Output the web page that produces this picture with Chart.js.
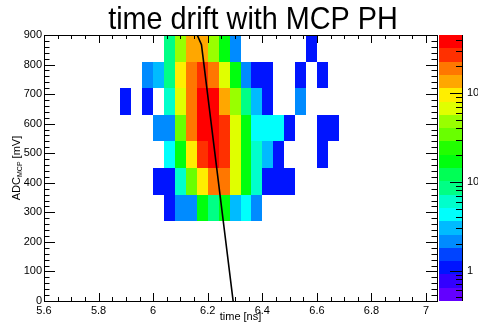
<!DOCTYPE html>
<html><head><meta charset="utf-8">
<script src="https://cdn.jsdelivr.net/npm/chart.js@4.4.1/dist/chart.umd.min.js"></script>
<style>html,body{margin:0;padding:0;background:#fff;}canvas{display:block;}</style>
</head><body>
<canvas id="c" width="478" height="323"></canvas>
<script>
// ---------- data ----------
const chartTitle = 'time drift with MCP PH';
const xTickValues = [5.6, 5.8, 6.0, 6.2, 6.4, 6.6, 6.8, 7.0];
const yTickValues = [0, 100, 200, 300, 400, 500, 600, 700, 800, 900];
const zTickValues = [1, 10, 100];
const xRange = [5.6, 7.04];
const yRange = [0, 900];
const zRange = [0.453, 453];
const timeBinWidth = 0.04;   // ns
const adcBinWidth = 90;      // mV
// lower edges of the time bins (ns)
const timeBins = [5.88, 5.92, 5.96, 6.00, 6.04, 6.08, 6.12, 6.16, 6.20, 6.24,
                  6.28, 6.32, 6.36, 6.40, 6.44, 6.48, 6.52, 6.56, 6.60, 6.64];
// lower edges of the ADC bins (mV)
const adcBins = [810, 720, 630, 540, 450, 360, 270];
// entries per cell, one row per ADC bin, one column per time bin
const counts = [
  [0,0,0,0,9,48,135,135,48,17,2,0,0,0,0,0,0,1,0,0],
  [0,0,2,3,9,95,190,270,190,68,17,2,1,1,0,0,1,0,1,0],
  [1,0,1,0,6,68,190,380,380,135,48,9,3,1,0,0,2,0,0,0],
  [0,0,0,2,2,34,190,380,380,270,68,17,4,4,4,1,0,0,1,1],
  [0,0,0,0,4,17,95,270,380,270,68,17,6,3,1,0,0,0,1,0],
  [0,0,0,1,1,6,34,95,190,190,68,17,6,1,1,1,0,0,0,0],
  [0,0,0,0,1,2,2,17,9,17,3,4,2,0,0,0,0,0,0,0]
];
// drift curve
const lineTime = [6.158, 6.177, 6.293];
const lineAdc  = [907, 867, 0];

// ---------- palette (ROOT "pretty" palette, 20 contours) ----------
const nLevels = 20, nColors = 50;
function levelColor(j) {
  const i = Math.floor((j + 0.99) * nColors / nLevels);
  const hue = 280 - (i + 1) * (280 / nColors);
  return 'hsl(' + hue.toFixed(2) + ',100%,50%)';
}
const lzMin = Math.log10(zRange[0]), lzMax = Math.log10(zRange[1]);
function colorFor(v) {
  let j = Math.floor(0.01 + (Math.log10(v) - lzMin) * nLevels / (lzMax - lzMin));
  j = Math.max(0, Math.min(nLevels - 1, j));
  return levelColor(j);
}
const FONT = '"Liberation Sans", Arial, Helvetica, sans-serif';

const rootPlugin = {
  id: 'rootPlugin',
  beforeDatasetsDraw(chart) {
    const {ctx, chartArea: a, scales: {x, y}} = chart;
    ctx.save();
    ctx.beginPath(); ctx.rect(a.left, a.top, a.right - a.left, a.bottom - a.top); ctx.clip();
    adcBins.forEach((lo, r) => {
      counts[r].forEach((v, c) => {
        if (!v) return;
        const t0 = timeBins[c];
        const x0 = Math.round(x.getPixelForValue(t0));
        const x1 = Math.round(x.getPixelForValue(t0 + timeBinWidth));
        const y0 = Math.round(y.getPixelForValue(lo + adcBinWidth));
        const y1 = Math.round(y.getPixelForValue(lo));
        ctx.fillStyle = colorFor(v);
        ctx.fillRect(x0, y0, x1 - x0, y1 - y0);
      });
    });
    ctx.restore();
  },
  afterDraw(chart) {
    const {ctx, chartArea: a, scales: {x, y, z}} = chart;
    ctx.save();
    ctx.strokeStyle = '#000';
    ctx.lineWidth = 1;
    // frame top & right
    ctx.beginPath();
    ctx.moveTo(a.left, a.top + 0.5); ctx.lineTo(a.right + 0.5, a.top + 0.5);
    ctx.moveTo(a.right + 0.5, a.top); ctx.lineTo(a.right + 0.5, a.bottom);
    ctx.stroke();
    // x ticks (bottom & top)
    ctx.beginPath();
    for (let k = 0; ; k++) {
      const t = xRange[0] + k * 0.05;
      if (t > xRange[1] + 1e-9) break;
      const major = Math.abs((t - xRange[0]) / 0.2 - Math.round((t - xRange[0]) / 0.2)) < 1e-6;
      const len = major ? 8 : 4;
      const px = Math.round(x.getPixelForValue(t)) + 0.5;
      ctx.moveTo(px, a.bottom); ctx.lineTo(px, a.bottom - len);
      ctx.moveTo(px, a.top); ctx.lineTo(px, a.top + len);
    }
    // y ticks (left & right)
    for (let v = yRange[0]; v <= yRange[1]; v += 20) {
      const major = v % 100 === 0;
      const len = major ? 11 : 5.5;
      const py = Math.round(y.getPixelForValue(v)) + 0.5;
      ctx.moveTo(a.left, py); ctx.lineTo(a.left + len, py);
      ctx.moveTo(a.right, py); ctx.lineTo(a.right - len, py);
    }
    ctx.stroke();

    // palette
    const pl = a.right + 2, pr = a.right + 25;
    const step = (lzMax - lzMin) / nLevels;
    for (let j = 0; j < nLevels; j++) {
      const v0 = Math.pow(10, lzMin + j * step), v1 = Math.pow(10, lzMin + (j + 1) * step);
      const y0 = Math.round(z.getPixelForValue(v1)), y1 = Math.round(z.getPixelForValue(v0));
      ctx.fillStyle = levelColor(j);
      ctx.fillRect(pl, y0, pr - pl, y1 - y0);
    }
    ctx.beginPath();
    ctx.moveTo(pr + 0.5, z.top); ctx.lineTo(pr + 0.5, z.bottom);
    for (let e = -1; e <= 2; e++) {
      for (let m = 1; m <= 9; m++) {
        const v = m * Math.pow(10, e);
        if (v < zRange[0] || v > zRange[1]) continue;
        const len = m === 1 ? 12 : 6;
        const py = Math.round(z.getPixelForValue(v)) + 0.5;
        ctx.moveTo(pr, py); ctx.lineTo(pr - len, py);
      }
    }
    ctx.stroke();
    ctx.fillStyle = '#000';
    ctx.font = '11px ' + FONT;
    ctx.textAlign = 'left'; ctx.textBaseline = 'middle';
    zTickValues.forEach(v => ctx.fillText(String(v), pr + 5, z.getPixelForValue(v)));

    // y axis title with subscript
    ctx.save();
    ctx.translate(20, (a.top + a.bottom) / 2);
    ctx.rotate(-Math.PI / 2);
    ctx.textBaseline = 'alphabetic'; ctx.textAlign = 'left';
    const f1 = '11px ' + FONT, f2 = '7px ' + FONT;
    ctx.font = f1; const w1 = ctx.measureText('ADC').width, w3 = ctx.measureText(' [mV]').width;
    ctx.font = f2; const w2 = ctx.measureText('MCP').width;
    let sx = -(w1 + w2 + w3) / 2;
    ctx.font = f1; ctx.fillText('ADC', sx, 0); sx += w1;
    ctx.font = f2; ctx.fillText('MCP', sx, 1.5); sx += w2;
    ctx.font = f1; ctx.fillText(' [mV]', sx, 0);
    ctx.restore();

    // chart title (slightly condensed to match the reference proportions)
    ctx.save();
    ctx.translate(253, 29);
    ctx.scale(0.9, 1);
    ctx.font = '32px ' + FONT;
    ctx.textAlign = 'center'; ctx.textBaseline = 'alphabetic';
    ctx.fillText(chartTitle, 0, 0);
    ctx.restore();
    ctx.restore();
  }
};

new Chart(document.getElementById('c'), {
  type: 'scatter',
  data: {
    datasets: [{
      data: lineTime.map((t, i) => ({x: t, y: lineAdc[i]})),
      showLine: true,
      borderColor: '#000',
      borderWidth: 1.6,
      pointRadius: 0,
      fill: false,
      clip: 0,
      xAxisID: 'x', yAxisID: 'y'
    }]
  },
  options: {
    responsive: false,
    animation: false,
    events: [],
    devicePixelRatio: 1,
    layout: {padding: {top: 35, left: 0, right: 0, bottom: 0}},
    plugins: {legend: {display: false}, tooltip: {enabled: false}, title: {display: false}},
    scales: {
      x: {
        type: 'linear', position: 'bottom', min: xRange[0], max: xRange[1],
        grid: {display: false, drawTicks: false, tickLength: 0},
        border: {display: true, color: '#000', width: 1},
        afterBuildTicks: s => { s.ticks = xTickValues.map(v => ({value: v})); },
        afterFit: s => { s.height = 22; },
        ticks: {color: '#000', font: {family: FONT, size: 11}, padding: 3, autoSkip: false, maxRotation: 0,
                callback: v => String(parseFloat(Number(v).toFixed(2)))},
        title: {display: true, text: 'time [ns]', color: '#000', font: {family: FONT, size: 11}, padding: {top: 0, bottom: -1}}
      },
      y: {
        type: 'linear', position: 'left', min: yRange[0], max: yRange[1],
        grid: {display: false, drawTicks: false, tickLength: 0},
        border: {display: true, color: '#000', width: 1},
        afterBuildTicks: s => { s.ticks = yTickValues.map(v => ({value: v})); },
        afterFit: s => { s.width = 44; },
        ticks: {color: '#000', font: {family: FONT, size: 11}, padding: 2, autoSkip: false,
                callback: v => String(v)}
      },
      z: {
        type: 'logarithmic', position: 'right', min: zRange[0], max: zRange[1],
        grid: {display: false, drawTicks: false}, border: {display: false},
        ticks: {display: false},
        afterFit: s => { s.width = 41; }
      }
    }
  },
  plugins: [rootPlugin]
});
</script>
</body></html>
